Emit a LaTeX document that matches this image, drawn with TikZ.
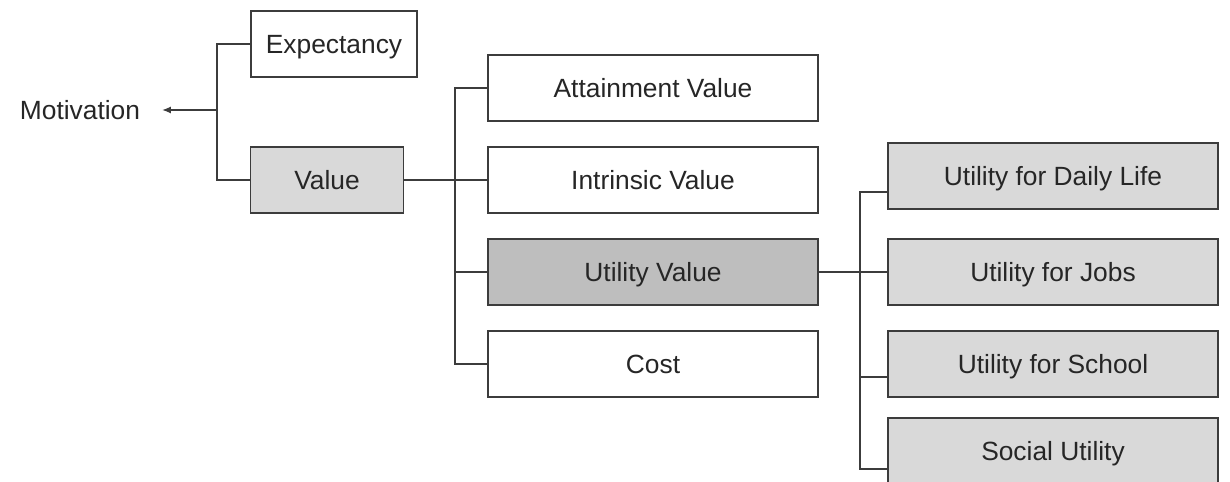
\documentclass[tikz,border=0pt]{standalone}
\usepackage{fontspec}
\setmainfont{Liberation Sans}
\usepackage{tikz}
\usetikzlibrary{arrows.meta,positioning,calc}
\definecolor{linegrey}{RGB}{60,60,60}
\definecolor{boxlight}{RGB}{217,217,217}
\definecolor{boxdark}{RGB}{190,190,190}

\begin{document}
\begin{tikzpicture}[x=0.02cm, y=-0.02cm,
    box/.style={rectangle, draw=linegrey, line width=0.9pt, fill=white,
                minimum height=1.32cm, text height=10.8pt, text depth=0pt,
                font=\fontsize{15}{18}\selectfont, text=black!85},
    wide/.style={box, minimum width=6.6cm},
    link/.style={draw=linegrey, line width=0.8pt},
    arr/.style={link, -{Latex[length=5pt,width=4pt]}}]
\useasboundingbox (0,0) rectangle (1230,482);
% first level
\node[font=\fontsize{15}{18}\selectfont, text=black!85] (mot) at (80,110) {Motivation};
\node[box, minimum width=3.32cm] (exp) at (334,44) {Expectancy};
\node[box, minimum width=3.06cm, fill=boxlight] (val) at (327,180) {Value};
% value components
\node[wide] (att) at (653,88) {Attainment Value};
\node[wide] (intr) at (653,180) {Intrinsic Value};
\node[wide, fill=boxdark] (util) at (653,272) {Utility Value};
\node[wide] (cost) at (653,364) {Cost};
% utility components
\node[wide, fill=boxlight] (daily) at (1053,176) {Utility for Daily Life};
\node[wide, fill=boxlight] (jobs) at (1053,272) {Utility for Jobs};
\node[wide, fill=boxlight] (school) at (1053,364) {Utility for School};
\node[wide, fill=boxlight] (social) at (1053,451) {Social Utility};
% bus coordinates
\coordinate (mjoin) at (217,110);
\coordinate (vbus) at (455,180);
\coordinate (ubus) at (860,272);
% stubs sit a bit low on some boxes
\coordinate (dstub) at ([yshift=-0.32cm]daily.west);
\coordinate (sstub) at ([yshift=-0.26cm]school.west);
\coordinate (xstub) at ([yshift=-0.36cm]social.west);
% expectancy x value -> motivation
\draw[link] (exp.west) -| (mjoin) |- (val.west);
\draw[arr, shorten >=9pt] (mjoin) -- (mot.east);
% value bracket
\draw[link] (val.east) -- (intr.west);
\draw[link] (att.west) -| (vbus) |- (cost.west);
\draw[link] (vbus |- util.west) -- (util.west);
% utility bracket
\draw[link] (util.east) -- (jobs.west);
\draw[link] (dstub) -| (ubus) |- (xstub);
\draw[link] (ubus |- sstub) -- (sstub);
\end{tikzpicture}
\end{document}
